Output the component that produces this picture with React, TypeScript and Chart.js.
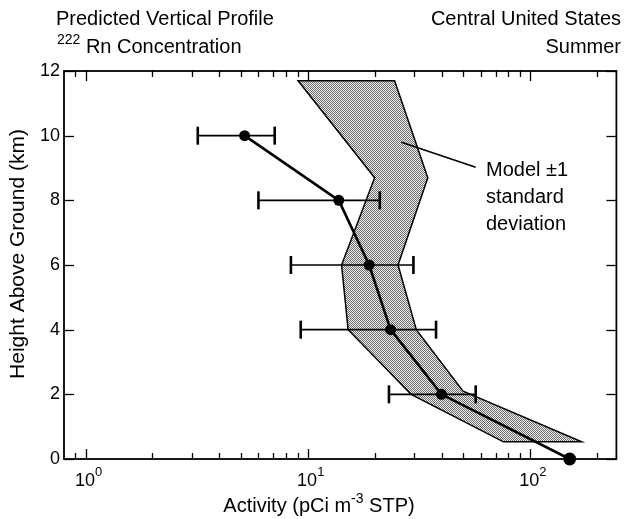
import React, { useEffect, useRef } from "react";
import { Chart, registerables } from "chart.js";

Chart.register(...registerables);

// ---- data ----
const heights = [10, 8, 6, 4, 2, 0];
const meanActivity = [5.2, 13.8, 18.9, 23.6, 40, 151];
const lowActivity = [3.2, 6.0, 8.4, 9.3, 23.2];
const highActivity = [7.1, 21.1, 29.9, 37.8, 57];

// model ±1 standard deviation band (polygon: left edge top→bottom, right edge bottom→top)
const bandLeftX = [9.05, 20.0, 14.2, 15.2, 29.2, 76];
const bandLeftY = [11.7, 8.7, 6.0, 4.0, 2.0, 0.53];
const bandRightX = [171, 50, 30.8, 25.5, 34.7, 24.6];
const bandRightY = [0.53, 2.1, 4.0, 6.0, 8.7, 11.7];

// leader line for the band annotation
const pointerX = [26.4, 57];
const pointerY = [9.8, 9.02];

const yTicks = [0, 2, 4, 6, 8, 10, 12];
const xMajorTicks = [1, 10, 100];
const xMajorExp = ["0", "1", "2"];
const xMinorTicks = [0.9, 2, 3, 4, 5, 6, 7, 8, 9, 20, 30, 40, 50, 60, 70, 80, 90, 200];

const FONT = "'Liberation Sans', Arial, Helvetica, sans-serif";

type Part = { t: string; size: number; dy: number };

function drawParts(ctx: CanvasRenderingContext2D, parts: Part[], x: number, base: number, align: "left" | "center" | "right") {
  let total = 0;
  for (const p of parts) {
    ctx.font = `${p.size}px ${FONT}`;
    total += ctx.measureText(p.t).width;
  }
  let cx = align === "left" ? x : align === "center" ? x - total / 2 : x - total;
  ctx.textAlign = "left";
  ctx.textBaseline = "alphabetic";
  for (const p of parts) {
    ctx.font = `${p.size}px ${FONT}`;
    ctx.fillText(p.t, cx, base + p.dy);
    cx += ctx.measureText(p.t).width;
  }
}

function makePattern(ctx: CanvasRenderingContext2D) {
  const c = document.createElement("canvas");
  c.width = 2;
  c.height = 2;
  const g = c.getContext("2d")!;
  g.fillStyle = "#ececec";
  g.fillRect(0, 0, 2, 2);
  g.fillStyle = "#707070";
  g.fillRect(0, 0, 1, 1);
  g.fillRect(1, 1, 1, 1);
  return ctx.createPattern(c, "repeat");
}

const bandPlugin = {
  id: "band",
  beforeDatasetsDraw(chart: any) {
    const { ctx, scales } = chart;
    const x = scales.x, y = scales.y;
    const xs = [...bandLeftX, ...bandRightX];
    const ys = [...bandLeftY, ...bandRightY];
    ctx.save();
    ctx.beginPath();
    xs.forEach((v, i) => {
      const px = x.getPixelForValue(v);
      const py = y.getPixelForValue(ys[i]);
      if (i === 0) ctx.moveTo(px, py);
      else ctx.lineTo(px, py);
    });
    ctx.closePath();
    ctx.fillStyle = makePattern(ctx) || "#b0b0b0";
    ctx.fill();
    ctx.strokeStyle = "#000";
    ctx.lineWidth = 1.5;
    ctx.lineJoin = "miter";
    ctx.stroke();
    ctx.restore();
  },
};

const framePlugin = {
  id: "frame",
  afterDraw(chart: any) {
    const { ctx, chartArea: a, scales } = chart;
    const x = scales.x, y = scales.y;
    ctx.save();
    ctx.strokeStyle = "#000";
    ctx.lineWidth = 1.3;
    const seg = (x1: number, y1: number, x2: number, y2: number) => {
      ctx.beginPath();
      ctx.moveTo(x1, y1);
      ctx.lineTo(x2, y2);
      ctx.stroke();
    };
    xMajorTicks.forEach((v) => {
      const px = Math.round(x.getPixelForValue(v)) + 0.5;
      seg(px, a.bottom, px, a.bottom - 10);
      seg(px, a.top, px, a.top + 10);
    });
    xMinorTicks.forEach((v) => {
      const px = Math.round(x.getPixelForValue(v)) + 0.5;
      seg(px, a.bottom, px, a.bottom - 6);
      seg(px, a.top, px, a.top + 6);
    });
    yTicks.forEach((v) => {
      const py = Math.round(y.getPixelForValue(v)) + 0.5;
      seg(a.left, py, a.left + 10, py);
      seg(a.right, py, a.right - 10, py);
    });
    ctx.lineWidth = 1.8;
    ctx.strokeRect(a.left, a.top, a.right - a.left, a.bottom - a.top);

    ctx.fillStyle = "#000";
    // x tick labels with superscripts
    xMajorTicks.forEach((v, i) => {
      const px = x.getPixelForValue(v);
      drawParts(ctx, [{ t: "10", size: 18, dy: 0 }, { t: xMajorExp[i], size: 13, dy: -10 }], px + 3, 486, "center");
    });
    // x axis title
    drawParts(
      ctx,
      [
        { t: "Activity (pCi m", size: 20, dy: 0 },
        { t: "-3", size: 14, dy: -9 },
        { t: " STP)", size: 20, dy: 0 },
      ],
      319,
      512,
      "center"
    );
    // y axis title
    ctx.save();
    ctx.translate(24, 254);
    ctx.rotate(-Math.PI / 2);
    drawParts(ctx, [{ t: "Height Above Ground (km)", size: 21, dy: 0 }], 0, 0, "center");
    ctx.restore();
    // headers
    drawParts(ctx, [{ t: "Predicted Vertical Profile", size: 20, dy: 0 }], 56, 25, "left");
    drawParts(ctx, [{ t: "222", size: 14, dy: -9 }, { t: " Rn Concentration", size: 20, dy: 0 }], 57, 53, "left");
    drawParts(ctx, [{ t: "Central United States", size: 20, dy: 0 }], 621, 25, "right");
    drawParts(ctx, [{ t: "Summer", size: 20, dy: 0 }], 621, 53, "right");
    // band annotation
    drawParts(ctx, [{ t: "Model \u00B11", size: 20, dy: 0 }], 486, 176, "left");
    drawParts(ctx, [{ t: "standard", size: 20, dy: 0 }], 486, 203, "left");
    drawParts(ctx, [{ t: "deviation", size: 20, dy: 0 }], 486, 230, "left");
    ctx.restore();
  },
};

export default function App() {
  const ref = useRef<HTMLCanvasElement | null>(null);

  useEffect(() => {
    if (!ref.current) return;
    Chart.defaults.font.family = FONT;

    const meanData = heights.map((h, i) => ({ x: meanActivity[i], y: h }));
    const errData: any[] = [];
    lowActivity.forEach((lo, i) => {
      errData.push({ x: lo, y: heights[i] });
      errData.push({ x: highActivity[i], y: heights[i] });
      errData.push({ x: null, y: null });
    });
    const pointerData = pointerX.map((v, i) => ({ x: v, y: pointerY[i] }));

    const chart = new Chart(ref.current, {
      type: "scatter",
      data: {
        datasets: [
          {
            data: pointerData,
            showLine: true,
            borderColor: "#000",
            borderWidth: 1.6,
            pointRadius: 0,
            clip: false,
          } as any,
          {
            data: errData,
            showLine: true,
            spanGaps: false,
            borderColor: "#000",
            borderWidth: 1.6,
            pointStyle: "line",
            rotation: 90,
            pointRadius: 9,
            pointBorderWidth: 2.6,
            pointBorderColor: "#000",
            clip: false,
          } as any,
          {
            data: meanData,
            showLine: true,
            borderColor: "#000",
            borderWidth: 2.6,
            pointRadius: [5.5, 5.5, 5.5, 5.5, 5.5, 6.5],
            pointBackgroundColor: "#000",
            pointBorderColor: "#000",
            pointBorderWidth: 0,
            clip: false,
          } as any,
        ],
      },
      options: {
        animation: false,
        responsive: false,
        devicePixelRatio: 1,
        layout: { padding: { left: 0, top: 71, right: 6, bottom: 0 } },
        plugins: { legend: { display: false }, tooltip: { enabled: false } },
        scales: {
          x: {
            type: "logarithmic",
            min: 0.8,
            max: 245,
            ticks: { display: false },
            grid: { display: false },
            border: { display: false },
            afterFit: (s: any) => {
              s.height = 60;
            },
          },
          y: {
            type: "linear",
            min: 0,
            max: 12,
            ticks: { stepSize: 2, color: "#000", font: { size: 18 }, padding: 4 },
            grid: { display: false, drawTicks: false },
            border: { display: false },
            afterFit: (s: any) => {
              s.width = 64;
            },
          },
        },
      } as any,
      plugins: [bandPlugin, framePlugin],
    });
    return () => chart.destroy();
  }, []);

  return (
    <div style={{ position: "fixed", left: 0, top: 0, width: 628, height: 519, background: "#fff" }}>
      <canvas ref={ref} width={628} height={519} style={{ display: "block" }} />
    </div>
  );
}
